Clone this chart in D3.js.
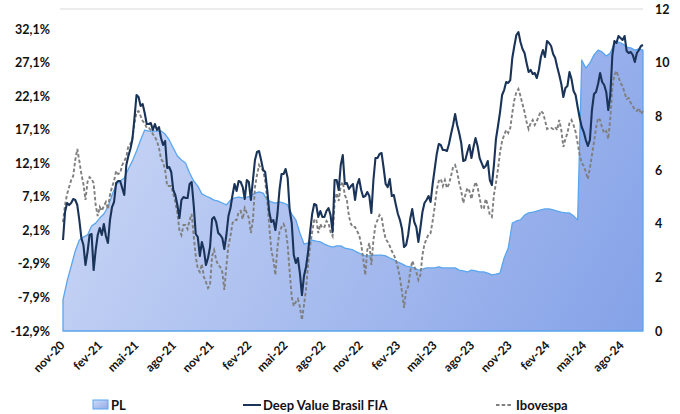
<!DOCTYPE html>
<html><head><meta charset="utf-8">
<script src="https://cdn.jsdelivr.net/npm/d3@7"></script>
<style>
html,body{margin:0;padding:0;background:#fff;}
svg{display:block;font-family:Lato,"Open Sans",sans-serif;}
</style></head>
<body><svg id="c" width="680" height="414"></svg>
<script>
// ---- data ----
const startDate = "2020-11-01";
const lineStepDays = 5;   // fund & Ibovespa sampled every 5 days
const plStepDays = 10;    // PL sampled every 10 days
const fundo = [
0.66,4.84,6.18,5.88,6.18,6.78,6.63,5.88,3.64,0.96,-0.08,-3.06,-1.13,1.41,1.56,-3.81,-0.83,1.41,2.45,1.41,
3.05,1.26,0.22,3.64,5.58,6.33,9.16,9.46,9.46,8.41,7.37,11.84,13.19,14.23,15.72,18.85,22.28,21.98,20.64,20.94,
19.60,17.96,17.96,18.10,17.06,17.96,17.06,17.51,15.87,14.82,15.42,11.40,11.55,10.80,8.12,7.37,5.88,3.94,6.63,7.07,
6.92,6.92,9.01,9.31,5.88,1.56,1.11,-1.72,0.37,-0.83,-3.06,-2.02,-0.38,3.79,4.09,3.35,1.71,1.41,0.96,-0.68,
1.41,4.24,5.43,7.37,9.01,7.97,9.46,9.31,8.56,6.78,9.61,9.31,6.63,9.61,12.59,13.78,13.93,12.59,11.10,10.80,
8.12,4.84,3.35,3.64,2.15,4.54,8.12,10.50,10.50,11.25,9.91,5.14,3.20,-1.57,-2.77,-2.02,-4.26,-7.54,-4.70,-3.36,
-1.13,1.86,4.54,6.03,5.88,4.09,4.99,4.09,4.09,4.99,5.43,4.39,1.86,9.61,9.61,8.12,11.84,13.33,9.01,9.16,
8.27,8.71,9.01,6.63,8.86,9.76,8.12,7.07,7.22,7.82,7.22,4.69,9.61,12.89,12.89,13.48,13.63,11.40,9.01,8.56,
9.76,7.22,7.37,5.88,4.54,3.64,2.30,-0.38,-0.08,1.41,3.79,5.28,3.35,2.60,0.37,2.45,4.84,6.18,6.63,7.22,
6.33,9.01,11.25,13.48,14.97,14.82,14.08,14.08,13.93,14.97,16.46,17.81,19.45,17.81,16.61,15.12,12.44,12.59,13.78,14.82,
12.89,14.53,15.87,14.68,12.89,12.14,11.40,11.69,12.44,9.61,8.86,11.84,15.72,17.66,19.74,22.28,23.02,24.22,24.07,24.51,
27.79,29.58,31.22,31.67,30.18,29.14,28.54,27.05,25.71,26.01,25.41,25.56,24.81,26.01,27.94,28.99,27.94,30.33,30.03,29.58,
28.39,27.79,26.45,25.26,23.92,21.98,23.32,23.62,25.71,24.66,22.87,22.28,20.49,18.85,17.51,16.76,15.57,14.68,15.57,20.04,
22.43,22.73,23.92,25.56,24.22,23.77,22.73,20.04,22.28,28.24,30.33,30.03,31.07,30.78,30.48,31.07,28.84,28.54,28.69,28.24,
27.20,28.54,28.99,29.58,29.73];
const ibovespa = [
3.35,5.88,7.52,8.56,9.61,10.20,12.59,14.23,12.44,10.50,9.01,6.63,9.31,10.05,9.76,9.16,5.88,4.24,5.58,4.99,
5.73,6.33,5.28,7.37,8.56,9.46,10.95,10.50,10.65,11.84,12.44,13.04,14.68,14.97,15.87,18.10,19.74,19.89,19.15,18.40,
18.10,17.36,17.36,17.06,16.46,16.02,15.42,14.38,12.74,12.29,11.10,8.71,8.71,8.71,7.52,6.33,4.69,2.15,1.41,2.90,
2.90,2.30,3.64,4.54,1.26,-1.72,-3.66,-4.11,-2.91,-4.85,-5.60,-6.49,-6.04,-1.72,-0.83,-2.32,-3.06,-3.36,-4.11,-6.79,
-3.21,-0.23,1.26,3.20,3.64,3.64,4.84,4.99,3.79,5.43,4.69,3.94,1.71,3.64,8.56,10.35,11.84,11.25,11.10,9.46,
6.63,2.75,-0.83,-2.32,-4.55,-0.38,1.86,2.60,3.05,2.30,-0.08,-4.11,-7.83,-9.18,-8.58,-8.13,-9.28,-11.26,-9.03,-6.64,
-3.06,-0.23,1.86,3.64,3.79,1.71,3.05,2.45,2.60,3.50,3.20,1.86,1.26,6.33,7.67,6.48,8.86,9.31,7.37,6.63,
4.24,3.05,2.60,2.60,2.00,1.41,0.07,-2.17,-4.55,-0.83,0.22,-3.06,0.66,2.90,3.64,4.39,4.09,2.15,0.81,0.37,
-0.23,-0.98,-1.57,-2.32,-3.51,-5.00,-7.09,-9.47,-6.79,-6.34,-4.11,-2.47,-3.21,-4.11,-5.30,-4.55,-1.57,0.07,0.81,1.56,
1.71,3.50,5.58,8.12,9.46,9.76,8.71,9.61,8.41,9.01,10.20,11.55,11.84,10.80,9.16,7.97,6.18,7.37,8.41,7.97,
6.77,8.27,9.31,8.56,6.92,5.43,5.28,6.78,5.88,4.39,4.09,7.37,9.16,11.25,13.78,15.42,16.32,17.06,16.61,17.36,
19.60,21.53,22.73,23.17,22.13,20.94,19.74,18.25,17.21,18.10,18.55,17.81,18.40,19.15,19.89,19.60,18.55,17.21,17.36,17.36,
17.21,17.51,17.06,18.55,17.06,14.53,15.72,16.61,18.10,18.55,17.81,16.76,15.12,13.33,12.14,11.69,10.80,9.76,11.40,13.33,
15.27,17.36,18.85,18.55,17.36,16.61,16.91,15.72,18.85,23.47,25.26,25.86,24.96,24.07,23.62,22.58,21.68,21.83,21.09,20.64,
20.04,19.89,20.34,19.45,19.89];
const pl = [1.16,1.86,2.42,2.98,3.39,3.50,3.58,3.91,4.02,4.21,4.36,4.62,5.07,5.44,5.59,5.70,6.04,6.34,6.71,7.12,7.49,7.45,7.45,7.45,7.45,7.34,7.12,6.82,6.52,6.37,6.26,5.89,5.59,5.40,5.11,5.03,4.96,4.88,4.84,4.77,4.70,4.88,4.96,4.99,4.96,4.99,5.03,5.14,5.18,5.14,4.88,4.81,4.77,4.81,4.77,4.70,4.36,4.14,3.65,3.24,3.28,3.39,3.35,3.32,3.24,3.17,3.13,3.17,3.17,3.09,3.06,3.02,2.94,2.87,2.80,2.80,2.83,2.83,2.83,2.80,2.72,2.65,2.57,2.50,2.42,2.39,2.35,2.27,2.31,2.35,2.35,2.35,2.39,2.35,2.35,2.35,2.35,2.27,2.24,2.20,2.27,2.24,2.20,2.20,2.16,2.09,2.12,2.16,2.72,3.09,4.02,4.10,4.14,4.32,4.40,4.43,4.47,4.51,4.55,4.55,4.51,4.47,4.43,4.40,4.40,4.29,4.14,10.10,9.80,9.99,10.29,10.47,10.40,10.25,10.36,10.73,10.77,10.70,10.58,10.55,10.47,10.51,10.47];
const leftTicks = [-12.9,-7.9,-2.9,2.1,7.1,12.1,17.1,22.1,27.1,32.1];
const rightTicks = [0,2,4,6,8,10,12];
const xTickDates = ["2020-11-01","2021-02-01","2021-05-01","2021-08-01","2021-11-01","2022-02-01","2022-05-01","2022-08-01","2022-11-01","2023-02-01","2023-05-01","2023-08-01","2023-11-01","2024-02-01","2024-05-01","2024-08-01"];
const xTickLabels = ["nov-20","fev-21","mai-21","ago-21","nov-21","fev-22","mai-22","ago-22","nov-22","fev-23","mai-23","ago-23","nov-23","fev-24","mai-24","ago-24"];
const seriesNames = ["PL","Deep Value Brasil FIA","Ibovespa"];

// ---- build ----
const parse = d3.utcParse("%Y-%m-%d");
const t0 = parse(startDate);
const lineRows = fundo.map((f, i) => ({d: d3.utcDay.offset(t0, i * lineStepDays), f, b: ibovespa[i]}));
const plRows = pl.map((p, i) => ({d: d3.utcDay.offset(t0, i * plStepDays), p}));
const tEnd = d3.max([lineRows[lineRows.length - 1].d, plRows[plRows.length - 1].d]);

const L = 63, R = 643, T = 9, B = 331;
const x = d3.scaleUtc().domain([t0, tEnd]).range([L, R]);
const yL = d3.scaleLinear().domain([-12.9, 35.1]).range([B, T]);
const yR = d3.scaleLinear().domain([0, 12]).range([B, T]);

const svg = d3.select("#c");
const defs = svg.append("defs");
const g1 = defs.append("linearGradient").attr("id", "plGrad")
  .attr("gradientUnits", "userSpaceOnUse")
  .attr("x1", L).attr("y1", T).attr("x2", R).attr("y2", B);
g1.append("stop").attr("offset", "0%").attr("stop-color", "#d0dbf6");
g1.append("stop").attr("offset", "100%").attr("stop-color", "#85a2e8");
const g2 = defs.append("linearGradient").attr("id", "legGrad")
  .attr("x1", 0).attr("y1", 0).attr("x2", 1).attr("y2", 1);
g2.append("stop").attr("offset", "0%").attr("stop-color", "#d0dbf6");
g2.append("stop").attr("offset", "100%").attr("stop-color", "#8fabea");

// top border line
svg.append("line").attr("x1", L - 3).attr("x2", R).attr("y1", T).attr("y2", T)
  .attr("stroke", "#d9d9d9").attr("stroke-width", 1);

// PL area
const area = d3.area().x(r => x(r.d)).y0(yR(0)).y1(r => yR(r.p));
svg.append("path").datum(plRows).attr("d", area)
  .attr("fill", "url(#plGrad)").attr("stroke", "#5aa5ee").attr("stroke-width", 1.3)
  .attr("stroke-linejoin", "round");

// Ibovespa
const lineB = d3.line().x(r => x(r.d)).y(r => yL(r.b));
svg.append("path").datum(lineRows.filter(r => r.b != null)).attr("d", lineB)
  .attr("fill", "none").attr("stroke", "#7f7f7f").attr("stroke-width", 1.9)
  .attr("stroke-dasharray", "3.5,2.2");

// Fund
const lineF = d3.line().x(r => x(r.d)).y(r => yL(r.f));
svg.append("path").datum(lineRows).attr("d", lineF)
  .attr("fill", "none").attr("stroke", "#1a3358").attr("stroke-width", 2.1)
  .attr("stroke-linejoin", "round");

// axes
const fmtPct = v => v.toFixed(1).replace(".", ",") + "%";
const axL = svg.append("g").attr("transform", `translate(${L},0)`)
  .call(d3.axisLeft(yL).tickValues(leftTicks).tickFormat(fmtPct).tickSize(0).tickPadding(13));
const axR = svg.append("g").attr("transform", `translate(${R},0)`)
  .call(d3.axisRight(yR).tickValues(rightTicks).tickFormat(d3.format("d")).tickSize(0).tickPadding(12));
const xT = xTickDates.map(parse);
const axB = svg.append("g").attr("transform", `translate(0,${B})`)
  .call(d3.axisBottom(x).tickValues(xT).tickFormat((d, i) => xTickLabels[i]).tickSize(0).tickPadding(0));
[axL, axR, axB].forEach(a => {
  a.select(".domain").remove();
  a.selectAll("text").attr("font-family", "Lato, 'Open Sans', sans-serif")
    .attr("font-weight", "bold").attr("font-size", 12.5).attr("fill", "#111");
});
axB.selectAll("text").attr("text-anchor", "end").attr("dy", null).attr("y", null)
  .attr("font-size", 12).attr("transform", "translate(2,15) rotate(-45)");

// legend
const lg = svg.append("g").attr("font-family", "Lato, 'Open Sans', sans-serif")
  .attr("font-weight", "bold").attr("font-size", 13).attr("fill", "#111");
lg.append("rect").attr("x", 93).attr("y", 400).attr("width", 15).attr("height", 9)
  .attr("fill", "url(#legGrad)").attr("stroke", "#5aa5ee").attr("stroke-width", 1);
lg.append("text").attr("x", 111).attr("y", 409.5).text(seriesNames[0]);
lg.append("line").attr("x1", 243).attr("x2", 261).attr("y1", 405).attr("y2", 405)
  .attr("stroke", "#1a3358").attr("stroke-width", 2);
lg.append("text").attr("x", 263).attr("y", 409.5).text(seriesNames[1]);
lg.append("line").attr("x1", 496).attr("x2", 513).attr("y1", 405).attr("y2", 405)
  .attr("stroke", "#7f7f7f").attr("stroke-width", 1.8).attr("stroke-dasharray", "3.5,2.2");
lg.append("text").attr("x", 516).attr("y", 409.5).text(seriesNames[2]);
</script></body></html>
